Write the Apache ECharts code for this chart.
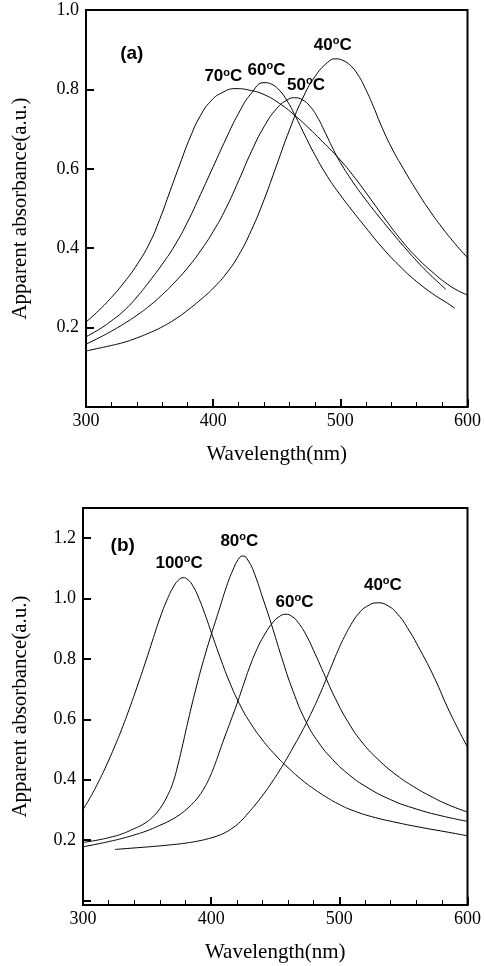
<!DOCTYPE html>
<html><head><meta charset="utf-8">
<script src="https://cdn.jsdelivr.net/npm/echarts@6/dist/echarts.min.js"></script>
<style>html,body{margin:0;padding:0;background:#fff}#c{width:484px;height:966px}</style>
</head><body><div id="c"></div>
<script>
// ---------- Panel (a) data: [wavelength nm, apparent absorbance] ----------
const a40 = [[300,0.141],[310,0.148],[320,0.155],[330,0.163],[340,0.174],[350,0.187],[360,0.202],[370,0.221],[380,0.244],[390,0.270],[400,0.299],[410,0.335],[420,0.382],[430,0.445],[440,0.522],[450,0.610],[460,0.698],[470,0.775],[480,0.832],[490,0.868],[496,0.877],[502,0.873],[508,0.860],[514,0.836],[520,0.800],[526,0.757],[532,0.710],[540,0.655],[550,0.598],[560,0.545],[570,0.496],[580,0.452],[590,0.412],[600,0.376]];
const a50 = [[300,0.158],[310,0.174],[320,0.191],[330,0.210],[340,0.231],[350,0.255],[360,0.283],[370,0.315],[380,0.351],[390,0.393],[400,0.442],[410,0.500],[420,0.570],[430,0.643],[440,0.706],[450,0.752],[458,0.773],[464,0.779],[470,0.774],[476,0.758],[482,0.730],[488,0.692],[494,0.652],[500,0.616],[510,0.566],[520,0.522],[530,0.481],[540,0.442],[550,0.404],[560,0.368],[570,0.335],[578,0.311],[583,0.296]];
const a60 = [[300,0.177],[310,0.195],[320,0.217],[330,0.243],[340,0.277],[350,0.317],[360,0.360],[370,0.408],[380,0.467],[390,0.535],[400,0.605],[410,0.675],[420,0.740],[430,0.790],[440,0.817],[446,0.813],[452,0.798],[458,0.772],[464,0.737],[472,0.685],[480,0.635],[490,0.580],[500,0.534],[510,0.492],[520,0.452],[532,0.405],[546,0.357],[560,0.316],[575,0.280],[583,0.264],[590,0.249]];
const a70 = [[300,0.214],[310,0.243],[320,0.276],[330,0.314],[340,0.358],[350,0.413],[358,0.473],[366,0.543],[374,0.613],[382,0.680],[390,0.734],[398,0.770],[406,0.790],[418,0.802],[430,0.797],[440,0.787],[452,0.765],[464,0.735],[476,0.700],[488,0.662],[500,0.622],[512,0.575],[524,0.523],[536,0.470],[548,0.420],[560,0.377],[572,0.341],[584,0.310],[592,0.294],[600,0.282]];

// ---------- Panel (b) data ----------
const b40 = [[325,0.169],[340,0.174],[355,0.179],[370,0.185],[380,0.190],[390,0.197],[398,0.205],[405,0.214],[411,0.225],[417,0.241],[423,0.262],[429,0.290],[435,0.320],[441,0.353],[447,0.389],[453,0.428],[459,0.470],[465,0.515],[470,0.553],[475,0.594],[480,0.638],[485,0.685],[490,0.736],[495,0.788],[500,0.838],[505,0.882],[510,0.920],[515,0.950],[521,0.973],[530,0.986],[538,0.976],[546,0.946],[553,0.904],[563,0.830],[574,0.739],[586,0.625],[600,0.508]];
const b60 = [[300,0.178],[310,0.186],[320,0.195],[330,0.205],[340,0.217],[350,0.231],[360,0.249],[368,0.265],[375,0.283],[381,0.303],[386,0.323],[390,0.343],[394,0.368],[398,0.400],[402,0.440],[406,0.487],[410,0.535],[415,0.592],[420,0.650],[425,0.712],[430,0.773],[436,0.835],[442,0.883],[448,0.920],[453,0.940],[458,0.948],[463,0.941],[468,0.920],[474,0.880],[481,0.818],[489,0.742],[497,0.668],[507,0.590],[517,0.528],[530,0.468],[545,0.414],[558,0.377],[570,0.348],[585,0.317],[600,0.293]];
const b80 = [[300,0.192],[310,0.199],[320,0.208],[330,0.220],[340,0.238],[345,0.248],[350,0.261],[354,0.275],[358,0.293],[362,0.317],[366,0.348],[370,0.388],[374,0.448],[378,0.520],[382,0.595],[388,0.700],[394,0.795],[400,0.880],[406,0.960],[412,1.040],[417,1.095],[422,1.135],[425,1.141],[429,1.125],[434,1.080],[440,1.005],[447,0.915],[455,0.805],[464,0.692],[474,0.592],[484,0.522],[495,0.466],[506,0.422],[520,0.379],[540,0.334],[560,0.303],[580,0.280],[600,0.262]];
const b100 = [[300,0.301],[306,0.344],[312,0.392],[318,0.445],[324,0.503],[330,0.565],[336,0.633],[342,0.705],[348,0.780],[354,0.858],[360,0.935],[366,1.000],[371,1.042],[375,1.063],[378,1.069],[382,1.062],[386,1.040],[390,1.005],[395,0.950],[401,0.877],[407,0.805],[414,0.727],[422,0.652],[430,0.592],[440,0.532],[450,0.482],[460,0.440],[470,0.402],[480,0.370],[490,0.342],[500,0.318],[510,0.299],[525,0.278],[545,0.258],[565,0.241],[585,0.226],[600,0.214]];

// ---------- Text / ticks ----------
const xTitle = 'Wavelength(nm)';
const yTitle = 'Apparent absorbance(a.u.)';
const xTicks = [300, 400, 500, 600];
const yTicksA = [0.2, 0.4, 0.6, 0.8, 1.0];
const yTicksB = [0.2, 0.4, 0.6, 0.8, 1.0, 1.2];
const yTickMarksB = [0, 0.2, 0.4, 0.6, 0.8, 1.0, 1.2];
// annotations: [wavelength, absorbance, text]
const notesA = [[336,0.891,'(a)'],[408,0.832,'70|C'],[442,0.849,'60|C'],[473,0.811,'50|C'],[494,0.912,'40|C']];
const notesB = [[331,1.174,'(b)'],[375,1.118,'100|C'],[422,1.19,'80|C'],[465,0.989,'60|C'],[534,1.044,'40|C']];

const serif = 'Liberation Serif';
const sans = 'Liberation Sans';

function xAxisCfg(gi) {
  return {
    gridIndex: gi, type: 'value', min: 300, max: 600, interval: 100,
    axisLine: {show: true, onZero: false, lineStyle: {color: '#000', width: 2}},
    axisTick: {show: true, inside: true, length: 8, lineStyle: {color: '#000', width: 2}},
    minorTick: {show: true, splitNumber: 5, length: 5, lineStyle: {color: '#000', width: 1}},
    splitLine: {show: false}, minorSplitLine: {show: false},
    axisLabel: {color: '#000', fontFamily: serif, fontSize: 18, margin: 5,
      customValues: xTicks},
    name: xTitle, nameLocation: 'middle', nameGap: 37,
    nameTextStyle: {color: '#000', fontFamily: serif, fontSize: 21}
  };
}
function yAxisCfg(gi, min, max, labels, ticks, gap) {
  return {
    gridIndex: gi, type: 'value', min: min, max: max,
    axisLine: {show: true, onZero: false, lineStyle: {color: '#000', width: 2}},
    axisTick: {show: true, inside: true, length: 8, customValues: ticks, lineStyle: {color: '#000', width: 2}},
    splitLine: {show: false},
    axisLabel: {color: '#000', fontFamily: serif, fontSize: 18, margin: 7,
      customValues: labels, formatter: v => v.toFixed(1)},
    name: yTitle, nameLocation: 'middle', nameGap: gap, nameRotate: 90,
    nameTextStyle: {color: '#000', fontFamily: serif, fontSize: 21}
  };
}
function lineSeries(data, gi) {
  return {type: 'line', xAxisIndex: gi, yAxisIndex: gi, data: data,
    showSymbol: false, symbol: 'none', smooth: 0.5,
    lineStyle: {color: '#000', width: 1}, silent: true, z: 3};
}

const chart = echarts.init(document.getElementById('c'), null, {renderer: 'canvas'});
chart.setOption({
  animation: false,
  backgroundColor: '#fff',
  grid: [
    {left: 86, top: 10, width: 382, height: 397, show: true, borderColor: '#000', borderWidth: 2, backgroundColor: 'transparent'},
    {left: 83, top: 508, width: 387, height: 397, show: true, borderColor: '#000', borderWidth: 2, backgroundColor: 'transparent'}
  ],
  xAxis: [xAxisCfg(0), xAxisCfg(1)],
  yAxis: [
    yAxisCfg(0, 0, 1.0, yTicksA, yTicksA, 55),
    yAxisCfg(1, -0.015, 1.3, yTicksB, yTickMarksB, 52)
  ],
  series: [
    lineSeries(a40, 0), lineSeries(a50, 0), lineSeries(a60, 0), lineSeries(a70, 0),
    lineSeries(b40, 1), lineSeries(b60, 1), lineSeries(b80, 1), lineSeries(b100, 1)
  ]
});

// annotation texts placed through the axes' scales
const rich = {
  n: {fontFamily: sans, fontWeight: 'bold', fontSize: 17, fill: '#000', lineHeight: 19},
  s: {fontFamily: sans, fontWeight: 'bold', fontSize: 11, fill: '#000', lineHeight: 12, verticalAlign: 'top'},
  p: {fontFamily: sans, fontWeight: 'bold', fontSize: 19, fill: '#000', lineHeight: 21}
};
function fmt(t) {
  if (t.indexOf('|') < 0) return '{p|' + t + '}';
  const parts = t.split('|');
  return '{n|' + parts[0] + '}{s|o}{n|' + parts[1] + '}';
}
const els = [];
[[notesA, 0], [notesB, 1]].forEach(([notes, gi]) => {
  notes.forEach(d => {
    const p = chart.convertToPixel({gridIndex: gi}, [d[0], d[1]]);
    els.push({type: 'text', x: p[0], y: p[1], z: 10, silent: true,
      style: {text: fmt(d[2]), rich: rich, align: 'center', verticalAlign: 'middle', fill: '#000'}});
  });
});
chart.setOption({graphic: {elements: els}});
</script></body></html>
